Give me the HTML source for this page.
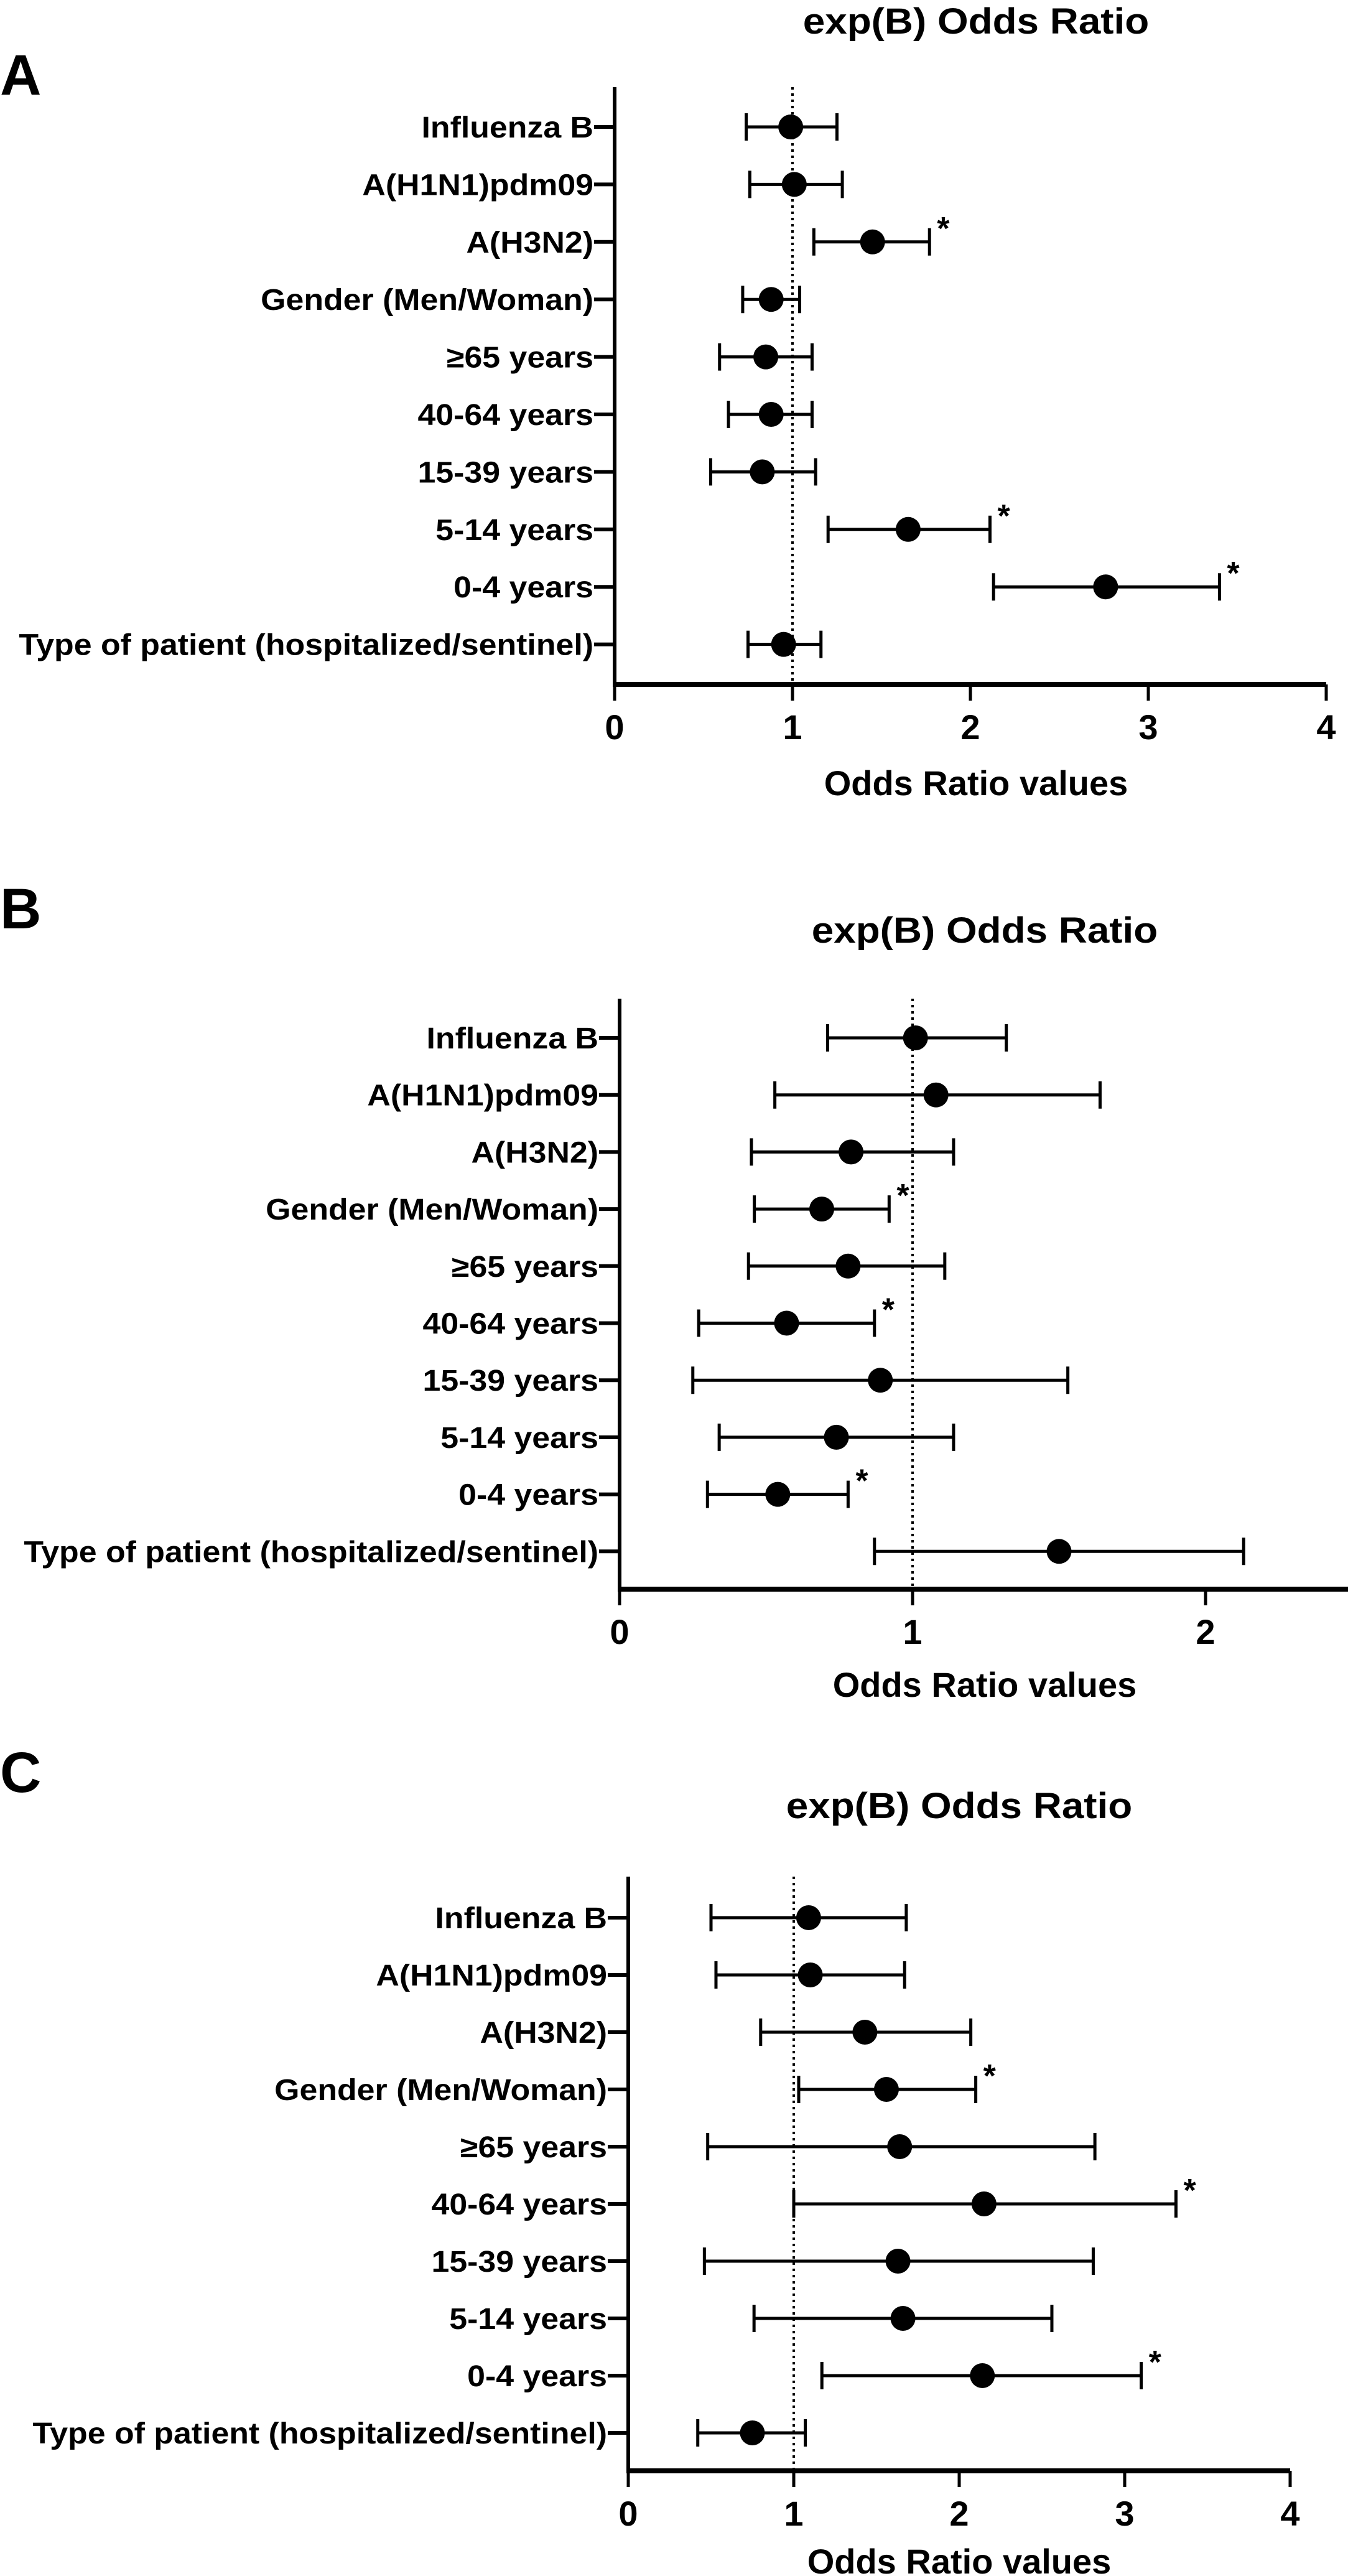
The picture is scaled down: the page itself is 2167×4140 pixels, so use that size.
<!DOCTYPE html>
<html><head><meta charset="utf-8">
<style>
html,body{margin:0;padding:0;background:#fff;}
svg{display:block;}
text{font-family:"Liberation Sans",sans-serif;font-weight:bold;fill:#000;}
.letter{font-family:"Liberation Sans","DejaVu Sans",sans-serif;}
</style></head>
<body>
<svg id="chart" width="2167" height="4140" viewBox="0 0 2167 4140" xmlns="http://www.w3.org/2000/svg"></svg>
<script>
const categories = ["Influenza B","A(H1N1)pdm09","A(H3N2)","Gender (Men/Woman)","\u226565 years","40-64 years","15-39 years","5-14 years","0-4 years","Type of patient (hospitalized/sentinel)"];

const lowA  = [0.74,0.76,1.12,0.72,0.59,0.64,0.54,1.20,2.13,0.75];
const ptA   = [0.99,1.01,1.45,0.88,0.85,0.88,0.83,1.65,2.76,0.95];
const highA = [1.25,1.28,1.77,1.04,1.11,1.11,1.13,2.11,3.40,1.16];
const sigA  = [0,0,1,0,0,0,0,1,1,0];
const ticksA = ["0","1","2","3","4"];

const lowB  = [0.71,0.53,0.45,0.46,0.44,0.27,0.25,0.34,0.30,0.87];
const ptB   = [1.01,1.08,0.79,0.69,0.78,0.57,0.89,0.74,0.54,1.50];
const highB = [1.32,1.64,1.14,0.92,1.11,0.87,1.53,1.14,0.78,2.13];
const sigB  = [0,0,0,1,0,1,0,0,1,0];
const ticksB = ["0","1","2"];

const lowC  = [0.50,0.53,0.80,1.03,0.48,1.00,0.46,0.76,1.17,0.42];
const ptC   = [1.09,1.10,1.43,1.56,1.64,2.15,1.63,1.66,2.14,0.75];
const highC = [1.68,1.67,2.07,2.10,2.82,3.31,2.81,2.56,3.10,1.07];
const sigC  = [0,0,0,1,0,1,0,0,1,0];
const ticksC = ["0","1","2","3","4"];

const NS = "http://www.w3.org/2000/svg";
const svg = document.getElementById("chart");
function mk(tag, attrs, parent){
  const e = document.createElementNS(NS, tag);
  for (const k in attrs) e.setAttribute(k, attrs[k]);
  (parent||svg).appendChild(e);
  return e;
}
function stretch(t, f){ try{ const w=t.getComputedTextLength(); if(w>0){t.setAttribute("textLength",(w*f).toFixed(1));t.setAttribute("lengthAdjust","spacingAndGlyphs");} }catch(e){} }

function panel(p){
  const g = mk("g",{});
  
  
  const x = v => p.x0 + v*p.unit;
  const y = i => p.row0 + i*p.step;
  const xMax = p.xMax;
  const L = mk("text",{x:p.letterX,y:p.letterY,"font-size":92,class:"letter"},g);
  L.textContent = p.id;
  
  
  const T = mk("text",{x:p.titleX,y:p.titleY,"font-size":58,"text-anchor":"middle"},g);
  T.textContent = "exp(B) Odds Ratio";
  
  
  stretch(T,1.1);
  const ref = mk("line",{x1:x(1),x2:x(1),y1:p.top,y2:p.axisY,stroke:"#000","stroke-width":4,"stroke-dasharray":"4 6"},g);
  
  
  const ya = mk("line",{x1:p.x0,x2:p.x0,y1:p.top,y2:p.axisY+4,stroke:"#000","stroke-width":6},g);
  
  
  const xa = mk("line",{x1:p.x0-3,x2:x(xMax),y1:p.axisY,y2:p.axisY,stroke:"#000","stroke-width":8},g);
  
  
  p.ticks.forEach((t,i)=>{
    const v = parseFloat(t);
    const tk = mk("line",{x1:x(v),x2:x(v),y1:p.axisY,y2:p.axisY+26,stroke:"#000","stroke-width":5},g);
    
    
    const tl = mk("text",{x:x(v),y:p.axisY+88,"font-size":56,"text-anchor":"middle"},g);
    tl.textContent = t;
    
    
  });
  const at = mk("text",{x:p.axTitleX,y:p.axTitleY,"font-size":56,"text-anchor":"middle"},g);
  at.textContent = "Odds Ratio values";
  
  
  categories.forEach((c,i)=>{
    const yy = y(i);
    const tk = mk("line",{x1:p.x0-33,x2:p.x0,y1:yy,y2:yy,stroke:"#000","stroke-width":6},g);
    
    
    const lb = mk("text",{x:p.x0-34,y:yy+17,"font-size":48,"text-anchor":"end"},g);
    lb.textContent = c;
    
    
    stretch(lb,1.08);
    const row = mk("g",{},g);
    
    
    const bar = mk("line",{x1:x(p.low[i]),x2:x(p.high[i]),y1:yy,y2:yy,stroke:"#000","stroke-width":5},row);
    
    
    [p.low[i],p.high[i]].forEach(v=>{
      const cap = mk("line",{x1:x(v),x2:x(v),y1:yy-22,y2:yy+22,stroke:"#000","stroke-width":5},row);
      
      
    });
    const dot = mk("circle",{cx:x(p.pt[i]),cy:yy,r:20,fill:"#000"},row);
    
    
    if (p.sig[i]) {
      const s = mk("text",{x:x(p.high[i])+12,y:yy-4,"font-size":52},row);
      s.textContent = "*";
      
      
    }
  });
}

panel({id:"A",x0:988,unit:286,row0:204,step:92.4,top:140,axisY:1100,xMax:4,
  low:lowA,pt:ptA,high:highA,sig:sigA,ticks:ticksA,
  letterX:0,letterY:152,titleX:1569,titleY:54,axTitleX:1569,axTitleY:1278});
panel({id:"B",x0:996,unit:471,row0:1668,step:91.7,top:1605,axisY:2554,xMax:2.5,
  low:lowB,pt:ptB,high:highB,sig:sigB,ticks:ticksB,
  letterX:0,letterY:1492,titleX:1583,titleY:1515,axTitleX:1583,axTitleY:2727});
panel({id:"C",x0:1010,unit:266,row0:3082,step:92,top:3016,axisY:3971,xMax:4,
  low:lowC,pt:ptC,high:highC,sig:sigC,ticks:ticksC,
  letterX:0,letterY:2880,titleX:1542,titleY:2922,axTitleX:1542,axTitleY:4136});
</script>
</body></html>
